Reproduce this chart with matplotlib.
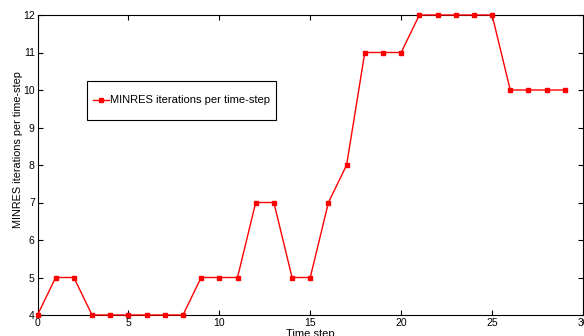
import matplotlib
matplotlib.use("Agg")
import matplotlib.pyplot as plt
from matplotlib.patches import Rectangle

# Data
steps = list(range(30))
iterations = [4, 5, 5, 4, 4, 4, 4, 4, 4, 5,
              5, 5, 7, 7, 5, 5, 7, 8, 11, 11,
              11, 12, 12, 12, 12, 12, 10, 10, 10, 10]
xticks = [0, 5, 10, 15, 20, 25, 30]
yticks = [4, 5, 6, 7, 8, 9, 10, 11, 12]

plt.rcParams['font.family'] = ['Liberation Sans', 'DejaVu Sans']

fig = plt.figure(figsize=(5.84, 3.36), dpi=100)
ax = fig.add_axes([37.5 / 584, 21 / 336, (583 - 37.5) / 584, 300 / 336])

ax.plot(steps, iterations, '-s', color='red', linewidth=1, markersize=3.5,
        label="MINRES iterations per time-step", clip_on=False, zorder=3)

ax.set_xlim(0, 30)
ax.set_ylim(4, 12)
ax.set_xticks(xticks)
ax.set_yticks(yticks)
ax.tick_params(direction='in', length=3.6, width=0.8, labelsize=7.5,
               top=True, right=True, pad=2)
for s in ax.spines.values():
    s.set_linewidth(0.8)

ax.set_xlabel("Time step", fontsize=8, labelpad=1)
ax.set_ylabel("MINRES iterations per time-step", fontsize=7.8)
ax.yaxis.set_label_coords(-0.027, 0.55)

# legend box (MATLAB style: tall white frame, entry centred)
box = Rectangle((87 / 584, 1 - 120 / 336), 189 / 584, 39 / 336,
                transform=fig.transFigure, facecolor='white',
                edgecolor='black', linewidth=0.8, zorder=4)
ax.add_patch(box)
box.set_clip_on(False)
leg = ax.legend(loc='center', bbox_to_anchor=(181.5 / 584, 1 - 100.5 / 336),
                bbox_transform=fig.transFigure, borderaxespad=0,
                frameon=False, fontsize=8, handlelength=1.45,
                handletextpad=0.15, borderpad=0.3, markerscale=1)
leg.set_zorder(5)

fig.savefig("out.png", dpi=100)
